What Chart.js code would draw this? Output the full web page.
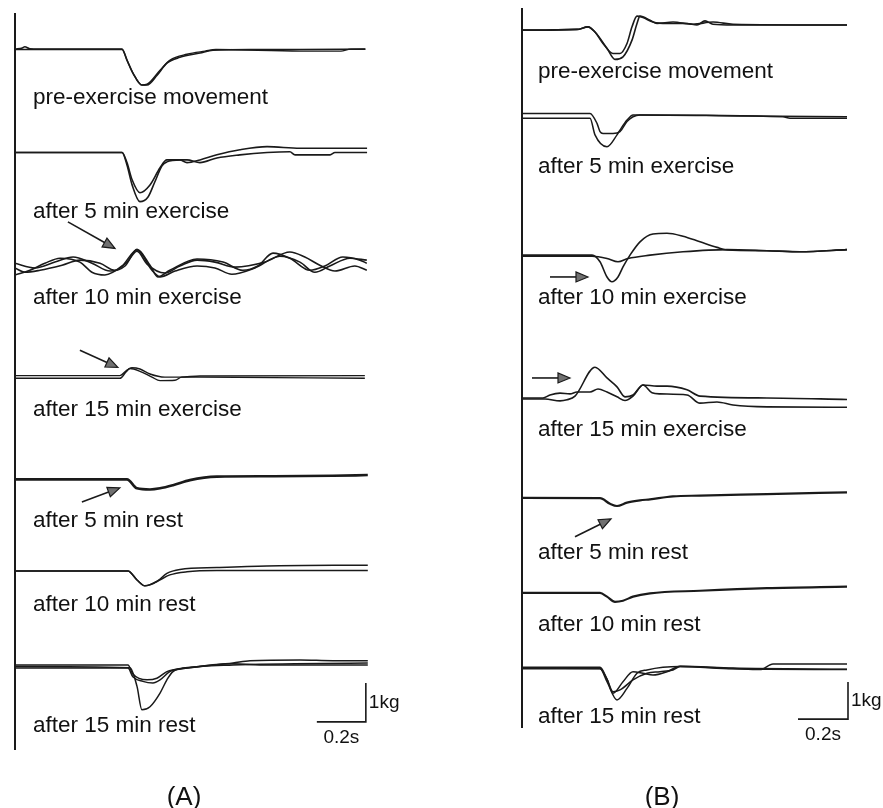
<!DOCTYPE html>
<html><head><meta charset="utf-8">
<script src="https://cdn.jsdelivr.net/npm/chart.js@4/dist/chart.umd.min.js"></script>
<style>
html,body{margin:0;padding:0;background:#fff;}
#wrap{position:relative;width:883px;height:808px;overflow:hidden;}
canvas{position:absolute;top:0;}
#ca{left:0;width:441px;height:808px;}
#cb{left:441px;width:442px;height:808px;}
</style></head><body>
<div id="wrap"><canvas id="ca" width="441" height="808"></canvas><canvas id="cb" width="442" height="808"></canvas></div>
<script>
// ---------- text ----------
const traceLabels = ["pre-exercise movement","after 5 min exercise","after 10 min exercise","after 15 min exercise","after 5 min rest","after 10 min rest","after 15 min rest"];
const panelNames = ["(A)","(B)"];
const scaleBarLabels = ["1kg","0.2s"];
const scaleBarSize = [0.2, 1]; // seconds, kg

// ---------- panel A traces (time s, force change kg) ----------
const tA1a=[0,0.03,0.04,0.06,0.10,0.437,0.457,0.482,0.518,0.539,0.58,0.62,0.673,0.755,0.808,0.96,1.16,1.43];
const vA1a=[0,0.03,0.06,0.01,0,0,-0.28,-0.62,-0.92,-0.92,-0.67,-0.36,-0.21,-0.10,-0.03,-0.01,-0.01,0];
const tA1b=[0,0.437,0.457,0.482,0.518,0.539,0.592,0.633,0.702,0.776,0.82,1.163,1.33,1.37,1.43];
const vA1b=[-0.01,-0.01,-0.28,-0.62,-0.92,-0.90,-0.54,-0.28,-0.13,-0.05,-0.01,-0.05,-0.05,0,0];

const tA2a=[0,0.437,0.457,0.478,0.510,0.543,0.571,0.600,0.620,0.673,0.702,0.755,0.824,0.918,1.029,1.163,1.437];
const vA2a=[0,0,-0.32,-0.83,-1.26,-1.14,-0.75,-0.34,-0.24,-0.19,-0.26,-0.19,-0.06,0.07,0.15,0.11,0.11];
const tA2b=[0,0.437,0.457,0.478,0.51,0.551,0.592,0.62,0.673,0.702,0.755,0.824,0.918,1.029,1.122,1.143,1.286,1.306,1.437];
const vA2b=[0,0,-0.26,-0.70,-1.03,-0.83,-0.39,-0.19,-0.19,-0.19,-0.26,-0.14,-0.06,0,0.02,-0.06,-0.06,0,0];

const tA3a=[0,0.082,0.163,0.237,0.314,0.388,0.449,0.498,0.551,0.583,0.632,0.743,0.849,0.930,0.991,1.053,1.122,1.204,1.265,1.338,1.408,1.436];
const vA3a=[-0.03,-0.15,0,0.13,-0.03,-0.23,-0.10,0.33,-0.08,-0.38,-0.21,0.08,0,-0.21,-0.10,0.23,0.10,-0.21,-0.10,0.13,0.05,-0.03];
const tA3b=[0,0.061,0.122,0.184,0.265,0.314,0.367,0.437,0.498,0.559,0.592,0.653,0.743,0.816,0.885,0.979,1.081,1.163,1.224,1.285,1.367,1.436];
const vA3b=[-0.33,-0.21,-0.03,0.10,0,-0.26,-0.33,-0.10,0.31,-0.21,-0.38,-0.23,-0.10,-0.15,-0.31,-0.15,0.15,0,-0.26,-0.10,0.10,0.05];
const tA3c=[0,0.041,0.102,0.192,0.265,0.347,0.408,0.457,0.498,0.539,0.612,0.673,0.743,0.816,0.898,1.020,1.122,1.183,1.244,1.306,1.387,1.436];
const vA3c=[-0.15,-0.26,-0.21,-0.08,0.05,-0.03,-0.21,0,0.28,-0.05,-0.28,-0.10,0.05,0,-0.13,0,0.26,0.13,-0.08,-0.23,-0.10,-0.21];

const tA4a=[0,0.428,0.457,0.477,0.510,0.551,0.612,0.673,0.755,1.428];
const vA4a=[0.04,0.04,0.18,0.24,0.21,0.08,0,0,0.03,0.04];
const tA4b=[0,0.428,0.453,0.469,0.510,0.559,0.592,0.653,0.681,0.755,1.428];
const vA4b=[-0.03,-0.03,0.13,0.22,0.15,0,-0.09,-0.08,0,0,-0.03];

const tA5=[0,0.457,0.498,0.551,0.592,0.645,0.714,0.824,1.028,1.297,1.44];
const vA5=[0,0,-0.23,-0.26,-0.23,-0.15,-0.02,0.07,0.08,0.09,0.11];

const tA6a=[0,0.461,0.498,0.530,0.579,0.620,0.673,0.824,1.028,1.44];
const vA6a=[0,0,-0.23,-0.38,-0.27,-0.06,0.04,0.09,0.13,0.15];
const tA6b=[0,0.461,0.498,0.530,0.579,0.632,0.702,0.824,1.028,1.44];
const vA6b=[0,0,-0.23,-0.38,-0.27,-0.10,-0.02,0.01,0.01,0.01];

const tA7a=[0,0.469,0.498,0.518,0.551,0.592,0.620,0.645,0.702,0.890,0.959,1.163,1.297,1.44];
const vA7a=[0,-0.03,-0.51,-1.11,-1.03,-0.68,-0.34,-0.13,-0.04,0.09,0.15,0.17,0.15,0.15];
const tA7b=[0,0.461,0.481,0.522,0.563,0.592,0.632,0.702,0.890,1.028,1.44];
const vA7b=[-0.04,-0.04,-0.26,-0.38,-0.42,-0.34,-0.13,-0.04,0.07,0.04,0.04];
const tA7c=[0,0.461,0.481,0.539,0.579,0.620,0.685,0.890,1.44];
const vA7c=[0.04,0.04,-0.19,-0.34,-0.30,-0.13,-0.04,0.04,0.09];

// ---------- panel B traces ----------
const tB1a=[0,0.22,0.264,0.292,0.324,0.364,0.392,0.42,0.44,0.46,0.484,0.524,0.58,0.66,0.70,0.732,0.764,0.844,1.30];
const vB1a=[0,0.02,0.09,-0.05,-0.36,-0.63,-0.63,-0.36,0.09,0.38,0.34,0.22,0.18,0.18,0.14,0.25,0.16,0.14,0.14];
const tB1b=[0,0.22,0.264,0.292,0.34,0.372,0.404,0.44,0.46,0.472,0.512,0.54,0.604,0.684,0.764,0.844,1.30];
const vB1b=[0,0.02,0.09,-0.05,-0.49,-0.79,-0.72,-0.27,0.18,0.38,0.27,0.18,0.22,0.16,0.22,0.16,0.14];

const tB2a=[0,0.272,0.30,0.312,0.324,0.364,0.392,0.42,0.444,0.472,1.044,1.072,1.30];
const vB2a=[0.07,0.07,-0.20,-0.42,-0.47,-0.47,-0.42,-0.15,-0.02,0.03,-0.02,-0.06,-0.06];
const tB2b=[0,0.272,0.292,0.34,0.38,0.392,0.42,0.444,0.472,0.9,1.30];
const vB2b=[-0.06,-0.06,-0.51,-0.83,-0.51,-0.38,-0.11,0.03,0.03,0,-0.02];

const tB3a=[0,0.28,0.312,0.34,0.36,0.384,0.404,0.432,0.472,0.524,0.58,0.644,0.712,0.78,0.82,0.98,1.112,1.30];
const vB3a=[0,0,-0.18,-0.59,-0.72,-0.59,-0.32,0,0.36,0.57,0.59,0.51,0.36,0.21,0.14,0.12,0.09,0.15];
const tB3b=[0,0.28,0.34,0.384,0.424,0.512,0.644,0.82,0.98,1.112,1.30];
const vB3b=[-0.03,-0.03,-0.09,-0.18,-0.09,0,0.09,0.15,0.12,0.09,0.15];

const tB4a=[0,0.092,0.152,0.18,0.212,0.292,0.34,0.38,0.412,0.444,0.484,0.52,0.552,0.66,0.712,0.78,0.844,0.98,1.30];
const vB4a=[-0.03,-0.03,-0.08,-0.05,0.05,0.83,0.54,0.30,0.03,0.08,0.35,0.14,0.11,0.08,-0.14,-0.11,-0.19,-0.24,-0.25];
const tB4b=[0,0.084,0.112,0.152,0.192,0.22,0.272,0.304,0.34,0.38,0.412,0.444,0.484,0.54,0.58,0.66,0.712,0.98,1.30];
const vB4b=[0,0,0.08,0.13,0.11,0.16,0.16,0.24,0.16,0.03,-0.07,0.05,0.35,0.32,0.32,0.22,0.05,0,-0.04];

const tB5=[0,0.312,0.352,0.38,0.42,0.472,0.512,0.604,0.712,0.98,1.30];
const vB5=[0,-0.01,-0.16,-0.22,-0.13,-0.07,-0.04,0.04,0.06,0.10,0.15];

const tB6=[0,0.312,0.34,0.372,0.404,0.444,0.512,0.712,0.98,1.30];
const vB6=[0,0,-0.10,-0.24,-0.21,-0.10,-0.01,0.06,0.13,0.17];

const tB7a=[0,0.312,0.34,0.38,0.42,0.46,0.50,0.632,0.844,0.952,1.004,1.30];
const vB7a=[0,-0.01,-0.37,-0.86,-0.55,-0.14,-0.05,0.04,-0.01,-0.04,0.11,0.11];
const tB7b=[0,0.312,0.34,0.364,0.404,0.444,0.484,0.524,0.58,0.632,0.844,1.30];
const vB7b=[0.02,0.02,-0.30,-0.68,-0.37,-0.10,-0.14,-0.19,-0.10,0.05,0,-0.03];
const tB7c=[0,0.312,0.34,0.364,0.392,0.444,0.50,0.552,0.604,0.632,0.844,1.30];
const vB7c=[-0.02,-0.02,-0.30,-0.64,-0.59,-0.32,-0.14,-0.10,-0.05,0.04,-0.02,-0.04];

// arrows: [row, tail time, tail kg, head time, head kg] relative to the row's baseline
const arrowsA=[[2,0.216,1.03,0.408,0.35],[3,0.265,0.69,0.420,0.25],[4,0.273,-0.58,0.428,-0.22]];
const arrowsB=[[2,0.112,-0.59,0.264,-0.59],[3,0.04,0.54,0.192,0.54],[4,0.212,-1.05,0.356,-0.57]];

// ---------- layout ----------
const INK='#1a1a1a';
const layoutA={
  id:'ca', xmax:1.45, ymax:18.897,
  pad:{left:15,right:70.75,top:13,bottom:58},
  base:[17.97,15.32,12.51,9.56,6.94,4.59,2.14],
  labelX:33, labelDy:[49,59,36,33,41,34,59],
  barEnd:[1.432,0.72], letterX:184,
  traces:[[tA1a,vA1a,0,1.6],[tA1b,vA1b,0,1.4],[tA2a,vA2a,1,1.6],[tA2b,vA2b,1,1.6],
          [tA3a,vA3a,2,1.6],[tA3b,vA3b,2,1.6],[tA3c,vA3c,2,1.6],
          [tA4a,vA4a,3,1.4],[tA4b,vA4b,3,1.4],[tA5,vA5,4,2.6],
          [tA6a,vA6a,5,1.5],[tA6b,vA6b,5,1.5],
          [tA7a,vA7a,6,1.5],[tA7b,vA7b,6,1.5],[tA7c,vA7c,6,1.5]],
  arrows:arrowsA, letter:0
};
const layoutB={
  id:'cb', xmax:1.31, ymax:19.459,
  pad:{left:81,right:33.5,top:8,bottom:80},
  base:[18.86,16.54,12.78,8.92,6.22,3.65,1.62],
  labelX:97, labelDy:[42,51,43,32,55,32,49],
  barEnd:[1.304,0.24], letterX:221,
  traces:[[tB1a,vB1a,0,1.6],[tB1b,vB1b,0,1.6],[tB2a,vB2a,1,1.5],[tB2b,vB2b,1,1.5],
          [tB3a,vB3a,2,1.6],[tB3b,vB3b,2,1.6],[tB4a,vB4a,3,1.6],[tB4b,vB4b,3,1.6],
          [tB5,vB5,4,2.2],[tB6,vB6,5,2.2],
          [tB7a,vB7a,6,1.5],[tB7b,vB7b,6,1.5],[tB7c,vB7c,6,1.5]],
  arrows:arrowsB, letter:1
};

function makePanel(L){
  const datasets=L.traces.map(([t,v,row,w])=>({
    data:t.map((x,i)=>({x:x,y:L.base[row]+v[i]})),
    borderColor:INK, borderWidth:w, pointRadius:0, fill:false,
    cubicInterpolationMode:'monotone'
  }));
  const deco={
    id:'deco',
    afterDraw(chart){
      const ctx=chart.ctx, a=chart.chartArea, xs=chart.scales.x, ys=chart.scales.y;
      ctx.save();
      // vertical axis line
      ctx.strokeStyle=INK; ctx.lineWidth=2;
      ctx.beginPath(); ctx.moveTo(a.left,a.top); ctx.lineTo(a.left,a.bottom); ctx.stroke();
      // labels
      ctx.fillStyle='#111'; ctx.font='22.5px "Liberation Sans", Arial, sans-serif';
      ctx.textBaseline='middle'; ctx.textAlign='left';
      traceLabels.forEach((s,i)=>{
        ctx.fillText(s, L.labelX, ys.getPixelForValue(L.base[i])+L.labelDy[i]);
      });
      // arrows
      L.arrows.forEach(([row,t0,v0,t1,v1])=>{
        const x0=xs.getPixelForValue(t0), y0=ys.getPixelForValue(L.base[row]+v0);
        const x1=xs.getPixelForValue(t1), y1=ys.getPixelForValue(L.base[row]+v1);
        const ang=Math.atan2(y1-y0,x1-x0), hl=12, hw=5;
        const bx=x1-hl*Math.cos(ang), by=y1-hl*Math.sin(ang);
        ctx.strokeStyle=INK; ctx.lineWidth=1.6;
        ctx.beginPath(); ctx.moveTo(x0,y0); ctx.lineTo(bx,by); ctx.stroke();
        ctx.beginPath(); ctx.moveTo(x1,y1);
        ctx.lineTo(bx+hw*Math.sin(ang), by-hw*Math.cos(ang));
        ctx.lineTo(bx-hw*Math.sin(ang), by+hw*Math.cos(ang));
        ctx.closePath(); ctx.fillStyle='#707070'; ctx.fill(); ctx.lineWidth=1.2; ctx.stroke();
      });
      // scale bar
      const [te,ke]=L.barEnd;
      const xr=xs.getPixelForValue(te), xl=xs.getPixelForValue(te-scaleBarSize[0]);
      const yb=ys.getPixelForValue(ke), yt=ys.getPixelForValue(ke+scaleBarSize[1]);
      ctx.strokeStyle=INK; ctx.lineWidth=1.6;
      ctx.beginPath(); ctx.moveTo(xl,yb); ctx.lineTo(xr,yb); ctx.lineTo(xr,yt); ctx.stroke();
      ctx.fillStyle='#111'; ctx.font='19px "Liberation Sans", Arial, sans-serif';
      ctx.textAlign='left'; ctx.fillText(scaleBarLabels[0], xr+3, (yb+yt)/2);
      ctx.textAlign='center'; ctx.fillText(scaleBarLabels[1], (xl+xr)/2, yb+16);
      // panel letter
      ctx.font='26px "Liberation Sans", Arial, sans-serif';
      ctx.fillText(panelNames[L.letter], L.letterX, 798);
      ctx.restore();
    }
  };
  new Chart(document.getElementById(L.id),{
    type:'line',
    data:{datasets},
    options:{
      responsive:false, animation:false, devicePixelRatio:1,
      layout:{padding:L.pad},
      plugins:{legend:{display:false},tooltip:{enabled:false}},
      scales:{x:{type:'linear',min:0,max:L.xmax,display:false},
              y:{type:'linear',min:0,max:L.ymax,display:false}},
      elements:{line:{tension:0.4}}
    },
    plugins:[deco]
  });
}
makePanel(layoutA);
makePanel(layoutB);
</script>
</body></html>
